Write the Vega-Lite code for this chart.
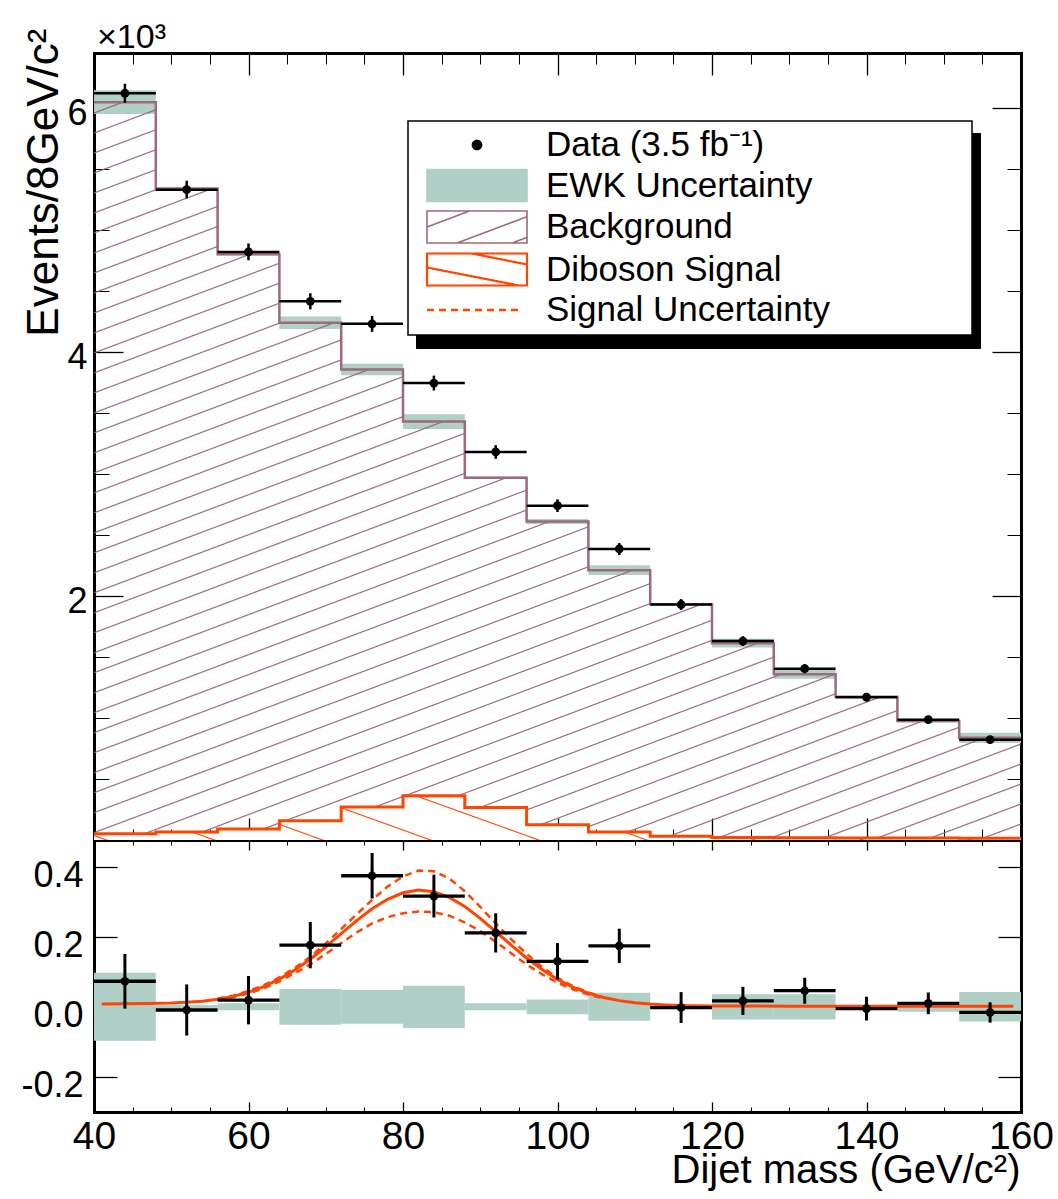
{
  "$schema": "https://vega.github.io/schema/vega-lite/v6.json",
  "width": 927,
  "height": 1059,
  "autosize": {"type": "none"},
  "padding": {"left": 94, "top": 53, "right": 37, "bottom": 87},
  "background": "white",
  "datasets": {
    "bins": [
      {"lo": 40, "hi": 48, "m": 44, "data": 6.12, "err": 0.078, "blo": 5.95, "bhi": 6.144, "diff": 0.073, "elo": -0.097, "ehi": 0.097},
      {"lo": 48, "hi": 56, "m": 52, "data": 5.33, "err": 0.073, "blo": 5.334, "bhi": 5.344, "diff": -0.009, "elo": -0.005, "ehi": 0.005},
      {"lo": 56, "hi": 64, "m": 60, "data": 4.82, "err": 0.069, "blo": 4.791, "bhi": 4.811, "diff": 0.019, "elo": -0.01, "ehi": 0.01},
      {"lo": 64, "hi": 72, "m": 68, "data": 4.415, "err": 0.066, "blo": 4.188, "bhi": 4.29, "diff": 0.176, "elo": -0.051, "ehi": 0.051},
      {"lo": 72, "hi": 80, "m": 76, "data": 4.23, "err": 0.065, "blo": 3.808, "bhi": 3.904, "diff": 0.374, "elo": -0.048, "ehi": 0.048},
      {"lo": 80, "hi": 88, "m": 84, "data": 3.745, "err": 0.061, "blo": 3.369, "bhi": 3.489, "diff": 0.316, "elo": -0.06, "ehi": 0.06},
      {"lo": 88, "hi": 96, "m": 92, "data": 3.18, "err": 0.056, "blo": 2.959, "bhi": 2.979, "diff": 0.211, "elo": -0.01, "ehi": 0.01},
      {"lo": 96, "hi": 104, "m": 100, "data": 2.74, "err": 0.052, "blo": 2.589, "bhi": 2.631, "diff": 0.13, "elo": -0.021, "ehi": 0.021},
      {"lo": 104, "hi": 112, "m": 108, "data": 2.385, "err": 0.049, "blo": 2.171, "bhi": 2.251, "diff": 0.174, "elo": -0.04, "ehi": 0.04},
      {"lo": 112, "hi": 120, "m": 116, "data": 1.93, "err": 0.044, "blo": 1.928, "bhi": 1.936, "diff": -0.002, "elo": -0.004, "ehi": 0.004},
      {"lo": 120, "hi": 128, "m": 124, "data": 1.63, "err": 0.04, "blo": 1.577, "bhi": 1.649, "diff": 0.017, "elo": -0.036, "ehi": 0.036},
      {"lo": 128, "hi": 136, "m": 132, "data": 1.404, "err": 0.037, "blo": 1.322, "bhi": 1.394, "diff": 0.046, "elo": -0.036, "ehi": 0.036},
      {"lo": 136, "hi": 144, "m": 140, "data": 1.17, "err": 0.034, "blo": 1.171, "bhi": 1.179, "diff": -0.005, "elo": -0.004, "ehi": 0.004},
      {"lo": 144, "hi": 152, "m": 148, "data": 0.986, "err": 0.031, "blo": 0.962, "bhi": 0.99, "diff": 0.01, "elo": -0.014, "ehi": 0.014},
      {"lo": 152, "hi": 160, "m": 156, "data": 0.822, "err": 0.029, "blo": 0.796, "bhi": 0.88, "diff": -0.016, "elo": -0.042, "ehi": 0.042}
    ],
    "edges": [
      {"x": 40, "bkg": 6.047, "sig": 0.052}, {"x": 48, "bkg": 5.339, "sig": 0.065},
      {"x": 56, "bkg": 4.801, "sig": 0.09}, {"x": 64, "bkg": 4.239, "sig": 0.158},
      {"x": 72, "bkg": 3.856, "sig": 0.27}, {"x": 80, "bkg": 3.429, "sig": 0.363},
      {"x": 88, "bkg": 2.969, "sig": 0.267}, {"x": 96, "bkg": 2.61, "sig": 0.125},
      {"x": 104, "bkg": 2.211, "sig": 0.065}, {"x": 112, "bkg": 1.932, "sig": 0.03},
      {"x": 120, "bkg": 1.613, "sig": 0.021}, {"x": 128, "bkg": 1.358, "sig": 0.019},
      {"x": 136, "bkg": 1.175, "sig": 0.017}, {"x": 144, "bkg": 0.976, "sig": 0.016},
      {"x": 152, "bkg": 0.838, "sig": 0.015}, {"x": 160, "bkg": 0.838, "sig": 0.015}
    ],
    "fit": [
      {"x": 41, "s": 0.008}, {"x": 44, "s": 0.0085}, {"x": 47, "s": 0.0092}, {"x": 50, "s": 0.0108},
      {"x": 52, "s": 0.013}, {"x": 54, "s": 0.0163}, {"x": 56, "s": 0.0218}, {"x": 58, "s": 0.0298},
      {"x": 60, "s": 0.0416}, {"x": 62, "s": 0.0577}, {"x": 64, "s": 0.079}, {"x": 66, "s": 0.1052},
      {"x": 68, "s": 0.1358}, {"x": 70, "s": 0.1713}, {"x": 72, "s": 0.2088}, {"x": 74, "s": 0.2459},
      {"x": 76, "s": 0.2796}, {"x": 78, "s": 0.3069}, {"x": 80, "s": 0.3253}, {"x": 82, "s": 0.333},
      {"x": 84, "s": 0.3285}, {"x": 86, "s": 0.3124}, {"x": 88, "s": 0.2861}, {"x": 90, "s": 0.2526},
      {"x": 92, "s": 0.2148}, {"x": 94, "s": 0.1761}, {"x": 96, "s": 0.1393}, {"x": 98, "s": 0.1063},
      {"x": 100, "s": 0.0784}, {"x": 102, "s": 0.056}, {"x": 104, "s": 0.0389}, {"x": 106, "s": 0.0264},
      {"x": 108, "s": 0.0177}, {"x": 110, "s": 0.0119}, {"x": 112, "s": 0.0082}, {"x": 114, "s": 0.0055},
      {"x": 116, "s": 0.0036}, {"x": 118, "s": 0.0028}, {"x": 120, "s": 0.0024}, {"x": 125, "s": 0.0021},
      {"x": 130, "s": 0.002}, {"x": 140, "s": 0.002}, {"x": 150, "s": 0.002}, {"x": 159, "s": 0.002}
    ],
    "fitband": [
      {"x": 56, "up": 0.024, "dn": 0.02}, {"x": 58, "up": 0.032, "dn": 0.027}, {"x": 60, "up": 0.045, "dn": 0.038},
      {"x": 62, "up": 0.062, "dn": 0.053}, {"x": 64, "up": 0.084, "dn": 0.073}, {"x": 66, "up": 0.111, "dn": 0.096},
      {"x": 68, "up": 0.143, "dn": 0.121}, {"x": 70, "up": 0.181, "dn": 0.151}, {"x": 72, "up": 0.222, "dn": 0.182},
      {"x": 74, "up": 0.264, "dn": 0.212}, {"x": 76, "up": 0.305, "dn": 0.238}, {"x": 78, "up": 0.343, "dn": 0.256},
      {"x": 80, "up": 0.372, "dn": 0.267}, {"x": 82, "up": 0.389, "dn": 0.272}, {"x": 84, "up": 0.387, "dn": 0.27},
      {"x": 86, "up": 0.366, "dn": 0.26}, {"x": 88, "up": 0.33, "dn": 0.241}, {"x": 90, "up": 0.285, "dn": 0.216},
      {"x": 92, "up": 0.238, "dn": 0.186}, {"x": 94, "up": 0.193, "dn": 0.153}, {"x": 96, "up": 0.151, "dn": 0.121},
      {"x": 98, "up": 0.114, "dn": 0.093}, {"x": 100, "up": 0.083, "dn": 0.069}, {"x": 102, "up": 0.059, "dn": 0.05},
      {"x": 104, "up": 0.041, "dn": 0.035}, {"x": 106, "up": 0.027, "dn": 0.024}
    ]
  },
  "layer": [
    {
      "data": {"name": "bins"},
      "mark": {"type": "rect"},
      "encoding": {
        "x": {"field": "lo", "type": "quantitative", "scale": {"domain": [40, 160], "nice": false, "zero": false},
          "axis": {"orient": "bottom", "offset": -272, "values": [40, 60, 80, 100, 120, 140, 160], "tickSize": -22, "tickWidth": 1.3, "labels": false, "domain": true, "domainWidth": 3, "domainColor": "black", "domainCap": "square", "title": null}},
        "x2": {"field": "hi"},
        "y": {"field": "blo", "type": "quantitative", "scale": {"domain": [0, 6.45], "range": [787, 0], "nice": false, "zero": false},
          "axis": {"orient": "left", "values": [2, 4, 6], "tickSize": -29, "tickWidth": 1.3, "labelFontSize": 36, "labelPadding": 36, "labelOffset": 6, "domain": true, "domainWidth": 3, "domainColor": "black", "domainCap": "square",
            "title": "Events/8GeV/c²", "titleFontSize": 44, "titleAnchor": "end", "titleAlign": "right", "titleBaseline": "alphabetic", "titleAngle": 270, "titleX": -37, "titleY": -25}},
        "y2": {"field": "bhi"},
        "color": {
          "datum": "EWK Uncertainty",
          "scale": {"domain": ["Data (3.5 fb⁻¹)", "EWK Uncertainty", "Background", "Diboson Signal", "Signal Uncertainty"], "range": ["black", "#b0cfc6", "#9c6c76", "#ff4500", "#ff4500"]},
          "legend": {
            "orient": "none", "legendX": 314, "legendY": 68, "title": null, "zindex": 2,
            "padding": 6.5, "rowPadding": 2.5, "symbolSize": 1225, "symbolOffset": 45, "labelOffset": 51.5, "symbolStrokeWidth": 1.5,
            "labelFont": "Liberation Sans", "labelFontSize": 35, "labelColor": "black", "labelLimit": 1000,
            "strokeColor": "black", "fillColor": "white",
            "encode": {
              "legend": {"update": {"strokeWidth": {"value": 1.5}}},
              "symbols": {"update": {
                "shape": {"signal": "datum.index === 0 ? 'M0.26,0A0.26,0.26,0,1,1,-0.26,0A0.26,0.26,0,1,1,0.26,0Z M27.7,0' : datum.index === 1 ? 'M-2.857,-0.914H2.857V0.914H-2.857Z' : datum.index === 2 ? 'M-2.857,-0.914H2.857V0.914H-2.857Z M-2.857,0L-0.43,-0.914 M-1.143,0.914L2.857,-0.589 M2,0.914L2.857,0.594' : datum.index === 3 ? 'M-2.857,-0.914H2.857V0.914H-2.857Z M-2.857,-0.114L2.4,0.914 M-0.286,-0.914L2.857,-0.286' : 'M-2.857,0H2.6'"},
                "fillOpacity": {"signal": "datum.index <= 1 ? 1 : 0"},
                "stroke": {"signal": "datum.index === 2 ? '#9c6c76' : datum.index >= 3 ? '#ff4500' : 'transparent'"},
                "strokeWidth": {"signal": "datum.index === 4 ? 2.5 : datum.index === 3 ? 2.2 : 1.6"},
                "strokeDash": {"signal": "datum.index === 4 ? [7, 5] : [1, 0]"},
                "opacity": {"value": 1}
              }}
            }
          }
        }
      }
    },
    {
      "data": {"name": "edges"},
      "mark": {"type": "area", "interpolate": "step-after",
        "fill": {"gradient": "linear", "x1": 0, "y1": 0, "x2": 0.5687, "y2": 1.2038, "stops": [
          {"offset": 0, "color": "rgba(147,98,109,0)"},
          {"offset": 0.0089, "color": "rgba(147,98,109,0)"}, {"offset": 0.0100, "color": "#93626d"}, {"offset": 0.0111, "color": "rgba(147,98,109,0)"},
          {"offset": 0.0273, "color": "rgba(147,98,109,0)"}, {"offset": 0.0284, "color": "#93626d"}, {"offset": 0.0295, "color": "rgba(147,98,109,0)"},
          {"offset": 0.0457, "color": "rgba(147,98,109,0)"}, {"offset": 0.0468, "color": "#93626d"}, {"offset": 0.0479, "color": "rgba(147,98,109,0)"},
          {"offset": 0.0641, "color": "rgba(147,98,109,0)"}, {"offset": 0.0652, "color": "#93626d"}, {"offset": 0.0663, "color": "rgba(147,98,109,0)"},
          {"offset": 0.0825, "color": "rgba(147,98,109,0)"}, {"offset": 0.0836, "color": "#93626d"}, {"offset": 0.0847, "color": "rgba(147,98,109,0)"},
          {"offset": 0.1009, "color": "rgba(147,98,109,0)"}, {"offset": 0.1020, "color": "#93626d"}, {"offset": 0.1031, "color": "rgba(147,98,109,0)"},
          {"offset": 0.1193, "color": "rgba(147,98,109,0)"}, {"offset": 0.1204, "color": "#93626d"}, {"offset": 0.1215, "color": "rgba(147,98,109,0)"},
          {"offset": 0.1377, "color": "rgba(147,98,109,0)"}, {"offset": 0.1388, "color": "#93626d"}, {"offset": 0.1399, "color": "rgba(147,98,109,0)"},
          {"offset": 0.1561, "color": "rgba(147,98,109,0)"}, {"offset": 0.1572, "color": "#93626d"}, {"offset": 0.1583, "color": "rgba(147,98,109,0)"},
          {"offset": 0.1745, "color": "rgba(147,98,109,0)"}, {"offset": 0.1756, "color": "#93626d"}, {"offset": 0.1767, "color": "rgba(147,98,109,0)"},
          {"offset": 0.1929, "color": "rgba(147,98,109,0)"}, {"offset": 0.1940, "color": "#93626d"}, {"offset": 0.1951, "color": "rgba(147,98,109,0)"},
          {"offset": 0.2113, "color": "rgba(147,98,109,0)"}, {"offset": 0.2124, "color": "#93626d"}, {"offset": 0.2135, "color": "rgba(147,98,109,0)"},
          {"offset": 0.2297, "color": "rgba(147,98,109,0)"}, {"offset": 0.2308, "color": "#93626d"}, {"offset": 0.2319, "color": "rgba(147,98,109,0)"},
          {"offset": 0.2481, "color": "rgba(147,98,109,0)"}, {"offset": 0.2492, "color": "#93626d"}, {"offset": 0.2503, "color": "rgba(147,98,109,0)"},
          {"offset": 0.2665, "color": "rgba(147,98,109,0)"}, {"offset": 0.2676, "color": "#93626d"}, {"offset": 0.2687, "color": "rgba(147,98,109,0)"},
          {"offset": 0.2849, "color": "rgba(147,98,109,0)"}, {"offset": 0.2860, "color": "#93626d"}, {"offset": 0.2871, "color": "rgba(147,98,109,0)"},
          {"offset": 0.3033, "color": "rgba(147,98,109,0)"}, {"offset": 0.3044, "color": "#93626d"}, {"offset": 0.3055, "color": "rgba(147,98,109,0)"},
          {"offset": 0.3217, "color": "rgba(147,98,109,0)"}, {"offset": 0.3228, "color": "#93626d"}, {"offset": 0.3239, "color": "rgba(147,98,109,0)"},
          {"offset": 0.3401, "color": "rgba(147,98,109,0)"}, {"offset": 0.3412, "color": "#93626d"}, {"offset": 0.3423, "color": "rgba(147,98,109,0)"},
          {"offset": 0.3585, "color": "rgba(147,98,109,0)"}, {"offset": 0.3596, "color": "#93626d"}, {"offset": 0.3607, "color": "rgba(147,98,109,0)"},
          {"offset": 0.3769, "color": "rgba(147,98,109,0)"}, {"offset": 0.3780, "color": "#93626d"}, {"offset": 0.3791, "color": "rgba(147,98,109,0)"},
          {"offset": 0.3953, "color": "rgba(147,98,109,0)"}, {"offset": 0.3964, "color": "#93626d"}, {"offset": 0.3975, "color": "rgba(147,98,109,0)"},
          {"offset": 0.4137, "color": "rgba(147,98,109,0)"}, {"offset": 0.4148, "color": "#93626d"}, {"offset": 0.4159, "color": "rgba(147,98,109,0)"},
          {"offset": 0.4321, "color": "rgba(147,98,109,0)"}, {"offset": 0.4332, "color": "#93626d"}, {"offset": 0.4343, "color": "rgba(147,98,109,0)"},
          {"offset": 0.4505, "color": "rgba(147,98,109,0)"}, {"offset": 0.4516, "color": "#93626d"}, {"offset": 0.4527, "color": "rgba(147,98,109,0)"},
          {"offset": 0.4689, "color": "rgba(147,98,109,0)"}, {"offset": 0.4700, "color": "#93626d"}, {"offset": 0.4711, "color": "rgba(147,98,109,0)"},
          {"offset": 0.4873, "color": "rgba(147,98,109,0)"}, {"offset": 0.4884, "color": "#93626d"}, {"offset": 0.4895, "color": "rgba(147,98,109,0)"},
          {"offset": 0.5057, "color": "rgba(147,98,109,0)"}, {"offset": 0.5068, "color": "#93626d"}, {"offset": 0.5079, "color": "rgba(147,98,109,0)"},
          {"offset": 0.5241, "color": "rgba(147,98,109,0)"}, {"offset": 0.5252, "color": "#93626d"}, {"offset": 0.5263, "color": "rgba(147,98,109,0)"},
          {"offset": 0.5425, "color": "rgba(147,98,109,0)"}, {"offset": 0.5436, "color": "#93626d"}, {"offset": 0.5447, "color": "rgba(147,98,109,0)"},
          {"offset": 0.5609, "color": "rgba(147,98,109,0)"}, {"offset": 0.5620, "color": "#93626d"}, {"offset": 0.5631, "color": "rgba(147,98,109,0)"},
          {"offset": 0.5793, "color": "rgba(147,98,109,0)"}, {"offset": 0.5804, "color": "#93626d"}, {"offset": 0.5815, "color": "rgba(147,98,109,0)"},
          {"offset": 0.5977, "color": "rgba(147,98,109,0)"}, {"offset": 0.5988, "color": "#93626d"}, {"offset": 0.5999, "color": "rgba(147,98,109,0)"},
          {"offset": 0.6161, "color": "rgba(147,98,109,0)"}, {"offset": 0.6172, "color": "#93626d"}, {"offset": 0.6183, "color": "rgba(147,98,109,0)"},
          {"offset": 0.6345, "color": "rgba(147,98,109,0)"}, {"offset": 0.6356, "color": "#93626d"}, {"offset": 0.6367, "color": "rgba(147,98,109,0)"},
          {"offset": 0.6529, "color": "rgba(147,98,109,0)"}, {"offset": 0.6540, "color": "#93626d"}, {"offset": 0.6551, "color": "rgba(147,98,109,0)"},
          {"offset": 0.6713, "color": "rgba(147,98,109,0)"}, {"offset": 0.6724, "color": "#93626d"}, {"offset": 0.6735, "color": "rgba(147,98,109,0)"},
          {"offset": 0.6897, "color": "rgba(147,98,109,0)"}, {"offset": 0.6908, "color": "#93626d"}, {"offset": 0.6919, "color": "rgba(147,98,109,0)"},
          {"offset": 0.7081, "color": "rgba(147,98,109,0)"}, {"offset": 0.7092, "color": "#93626d"}, {"offset": 0.7103, "color": "rgba(147,98,109,0)"},
          {"offset": 0.7265, "color": "rgba(147,98,109,0)"}, {"offset": 0.7276, "color": "#93626d"}, {"offset": 0.7287, "color": "rgba(147,98,109,0)"},
          {"offset": 0.7449, "color": "rgba(147,98,109,0)"}, {"offset": 0.7460, "color": "#93626d"}, {"offset": 0.7471, "color": "rgba(147,98,109,0)"},
          {"offset": 0.7633, "color": "rgba(147,98,109,0)"}, {"offset": 0.7644, "color": "#93626d"}, {"offset": 0.7655, "color": "rgba(147,98,109,0)"},
          {"offset": 0.7817, "color": "rgba(147,98,109,0)"}, {"offset": 0.7828, "color": "#93626d"}, {"offset": 0.7839, "color": "rgba(147,98,109,0)"},
          {"offset": 0.8001, "color": "rgba(147,98,109,0)"}, {"offset": 0.8012, "color": "#93626d"}, {"offset": 0.8023, "color": "rgba(147,98,109,0)"},
          {"offset": 0.8185, "color": "rgba(147,98,109,0)"}, {"offset": 0.8196, "color": "#93626d"}, {"offset": 0.8207, "color": "rgba(147,98,109,0)"},
          {"offset": 0.8369, "color": "rgba(147,98,109,0)"}, {"offset": 0.8380, "color": "#93626d"}, {"offset": 0.8391, "color": "rgba(147,98,109,0)"},
          {"offset": 0.8553, "color": "rgba(147,98,109,0)"}, {"offset": 0.8564, "color": "#93626d"}, {"offset": 0.8575, "color": "rgba(147,98,109,0)"},
          {"offset": 0.8737, "color": "rgba(147,98,109,0)"}, {"offset": 0.8748, "color": "#93626d"}, {"offset": 0.8759, "color": "rgba(147,98,109,0)"},
          {"offset": 0.8921, "color": "rgba(147,98,109,0)"}, {"offset": 0.8932, "color": "#93626d"}, {"offset": 0.8943, "color": "rgba(147,98,109,0)"},
          {"offset": 0.9105, "color": "rgba(147,98,109,0)"}, {"offset": 0.9116, "color": "#93626d"}, {"offset": 0.9127, "color": "rgba(147,98,109,0)"},
          {"offset": 0.9289, "color": "rgba(147,98,109,0)"}, {"offset": 0.9300, "color": "#93626d"}, {"offset": 0.9311, "color": "rgba(147,98,109,0)"},
          {"offset": 0.9473, "color": "rgba(147,98,109,0)"}, {"offset": 0.9484, "color": "#93626d"}, {"offset": 0.9495, "color": "rgba(147,98,109,0)"},
          {"offset": 0.9657, "color": "rgba(147,98,109,0)"}, {"offset": 0.9668, "color": "#93626d"}, {"offset": 0.9679, "color": "rgba(147,98,109,0)"},
          {"offset": 0.9841, "color": "rgba(147,98,109,0)"}, {"offset": 0.9852, "color": "#93626d"}, {"offset": 0.9863, "color": "rgba(147,98,109,0)"},
          {"offset": 1, "color": "rgba(147,98,109,0)"}
        ]}},
      "encoding": {
        "x": {"field": "x", "type": "quantitative", "scale": {"domain": [40, 160], "nice": false, "zero": false},
          "axis": {"orient": "bottom", "offset": -272, "values": [45, 50, 55, 65, 70, 75, 85, 90, 95, 105, 110, 115, 125, 130, 135, 145, 150, 155], "tickSize": -11, "tickWidth": 1, "labels": false, "title": null}},
        "y": {"field": "bkg", "type": "quantitative", "scale": {"domain": [0, 6.45], "range": [787, 0], "nice": false, "zero": false},
          "axis": {"orient": "left", "values": [0.5, 1, 1.5, 2.5, 3, 3.5, 4.5, 5, 5.5], "tickSize": -15, "tickWidth": 1, "labels": false, "title": null}},
        "y2": {"datum": 0}
      }
    },
    {
      "data": {"name": "edges"},
      "mark": {"type": "line", "interpolate": "step-after", "strokeWidth": 2.5},
      "encoding": {
        "x": {"field": "x", "type": "quantitative", "scale": {"domain": [40, 160], "nice": false, "zero": false},
          "axis": {"orient": "top", "values": [40, 60, 80, 100, 120, 140, 160], "tickSize": -22, "tickWidth": 1.3, "labels": false, "domain": true, "domainWidth": 3, "domainColor": "black", "domainCap": "square", "title": null}},
        "y": {"field": "bkg", "type": "quantitative", "scale": {"domain": [0, 6.45], "range": [787, 0], "nice": false, "zero": false},
          "axis": {"orient": "right", "values": [2, 4, 6], "tickSize": -29, "tickWidth": 1.3, "labels": false, "domain": true, "domainWidth": 3, "domainColor": "black", "domainCap": "square", "title": null}},
        "color": {"datum": "Background"}
      }
    },
    {
      "data": {"name": "edges"},
      "mark": {"type": "area", "interpolate": "step-after",
        "fill": {"gradient": "linear", "x1": 1, "y1": 0, "x2": -0.1131, "y2": 0.1477, "stops": [
          {"offset": 0, "color": "white"},
          {"offset": 0.0589, "color": "white"}, {"offset": 0.0620, "color": "#ff4500"}, {"offset": 0.0651, "color": "white"},
          {"offset": 0.1618, "color": "white"}, {"offset": 0.1649, "color": "#ff4500"}, {"offset": 0.1680, "color": "white"},
          {"offset": 0.2647, "color": "white"}, {"offset": 0.2678, "color": "#ff4500"}, {"offset": 0.2709, "color": "white"},
          {"offset": 0.3676, "color": "white"}, {"offset": 0.3707, "color": "#ff4500"}, {"offset": 0.3738, "color": "white"},
          {"offset": 0.4705, "color": "white"}, {"offset": 0.4736, "color": "#ff4500"}, {"offset": 0.4767, "color": "white"},
          {"offset": 0.5734, "color": "white"}, {"offset": 0.5765, "color": "#ff4500"}, {"offset": 0.5796, "color": "white"},
          {"offset": 0.6763, "color": "white"}, {"offset": 0.6794, "color": "#ff4500"}, {"offset": 0.6825, "color": "white"},
          {"offset": 0.7792, "color": "white"}, {"offset": 0.7823, "color": "#ff4500"}, {"offset": 0.7854, "color": "white"},
          {"offset": 0.8821, "color": "white"}, {"offset": 0.8852, "color": "#ff4500"}, {"offset": 0.8883, "color": "white"},
          {"offset": 0.9850, "color": "white"}, {"offset": 0.9881, "color": "#ff4500"}, {"offset": 0.9912, "color": "white"},
          {"offset": 1, "color": "white"}
        ]}},
      "encoding": {
        "x": {"field": "x", "type": "quantitative", "scale": {"domain": [40, 160], "nice": false, "zero": false},
          "axis": {"orient": "top", "values": [45, 50, 55, 65, 70, 75, 85, 90, 95, 105, 110, 115, 125, 130, 135, 145, 150, 155], "tickSize": -11, "tickWidth": 1, "labels": false, "title": null}},
        "y": {"field": "sig", "type": "quantitative", "scale": {"domain": [0, 6.45], "range": [787, 0], "nice": false, "zero": false},
          "axis": {"orient": "right", "values": [0.5, 1, 1.5, 2.5, 3, 3.5, 4.5, 5, 5.5], "tickSize": -14, "tickWidth": 1, "labels": false, "title": null}},
        "y2": {"datum": 0}
      }
    },
    {
      "data": {"name": "edges"},
      "mark": {"type": "line", "interpolate": "step-after", "strokeWidth": 3},
      "encoding": {
        "x": {"field": "x", "type": "quantitative", "scale": {"domain": [40, 160], "nice": false, "zero": false}, "axis": null},
        "y": {"field": "sig", "type": "quantitative", "scale": {"domain": [0, 6.45], "range": [787, 0], "nice": false, "zero": false}, "axis": null},
        "color": {"datum": "Diboson Signal"}
      }
    },
    {
      "data": {"name": "bins"},
      "mark": {"type": "rule", "color": "black", "strokeWidth": 2.5},
      "encoding": {
        "x": {"field": "lo", "type": "quantitative", "scale": {"domain": [40, 160], "nice": false, "zero": false}, "axis": null},
        "x2": {"field": "hi"},
        "y": {"field": "data", "type": "quantitative", "scale": {"domain": [0, 6.45], "range": [787, 0], "nice": false, "zero": false}, "axis": null}
      }
    },
    {
      "data": {"name": "bins"},
      "mark": {"type": "errorbar", "color": "black", "thickness": 2.5},
      "encoding": {
        "x": {"field": "m", "type": "quantitative", "scale": {"domain": [40, 160], "nice": false, "zero": false}, "axis": null},
        "y": {"field": "data", "type": "quantitative", "scale": {"domain": [0, 6.45], "range": [787, 0], "nice": false, "zero": false}, "axis": null},
        "yError": {"field": "err"}
      }
    },
    {
      "data": {"name": "bins"},
      "mark": {"type": "point", "filled": true, "size": 78, "opacity": 1},
      "encoding": {
        "x": {"field": "m", "type": "quantitative", "scale": {"domain": [40, 160], "nice": false, "zero": false}, "axis": null},
        "y": {"field": "data", "type": "quantitative", "scale": {"domain": [0, 6.45], "range": [787, 0], "nice": false, "zero": false}, "axis": null},
        "color": {"datum": "Data (3.5 fb⁻¹)"}
      }
    },
    {
      "data": {"values": [{}]},
      "mark": {"type": "text", "text": "×10³", "align": "left", "baseline": "alphabetic", "dx": 3, "dy": -5, "font": "Liberation Sans", "fontSize": 34, "color": "black"},
      "encoding": {
        "x": {"datum": 40, "type": "quantitative", "scale": {"domain": [40, 160], "nice": false, "zero": false}, "axis": null},
        "y": {"datum": 6.45, "type": "quantitative", "scale": {"domain": [0, 6.45], "range": [787, 0], "nice": false, "zero": false}, "axis": null}
      }
    },
    {
      "data": {"name": "bins"},
      "mark": {"type": "rect"},
      "encoding": {
        "x": {"field": "lo", "type": "quantitative", "scale": {"domain": [40, 160], "nice": false, "zero": false},
          "axis": {"orient": "bottom", "values": [40, 60, 80, 100, 120, 140, 160], "tickSize": -10, "tickWidth": 1.3, "labelFontSize": 39, "labelPadding": 15, "domain": true, "domainWidth": 3, "domainColor": "black", "domainCap": "square",
            "title": "Dijet mass (GeV/c²)", "titleFontSize": 40, "titleAnchor": "end", "titleAlign": "right", "titleBaseline": "alphabetic", "titleX": 926, "titleY": 70}},
        "x2": {"field": "hi"},
        "y": {"field": "elo", "type": "quantitative", "scale": {"domain": [-0.3, 0.476], "range": [1059, 787], "nice": false, "zero": false},
          "axis": {"orient": "left", "values": [-0.2, 0, 0.2, 0.4], "labelExpr": "datum.value < 0 ? '-' + format(-datum.value, '.1f') : format(datum.value, '.1f')", "tickSize": -23, "tickWidth": 1.3, "labelFontSize": 36, "labelPadding": 34, "labelOffset": 9, "domain": true, "domainWidth": 3, "domainColor": "black", "domainCap": "square", "title": null}},
        "y2": {"field": "ehi"},
        "color": {"datum": "EWK Uncertainty"},
        "fill": {
          "datum": "EWK Uncertainty",
          "scale": {"domain": ["EWK Uncertainty"], "range": ["#b0cfc6"]},
          "legend": {
            "orient": "none", "legendX": 322, "legendY": 80, "title": null, "zindex": 1,
            "padding": 6.5, "symbolSize": 1225, "symbolOffset": 0, "labelExpr": "''",
            "strokeColor": "black", "fillColor": "black",
            "encode": {
              "symbols": {"update": {
                "shape": {"value": "M0,0L30.31,10.37"},
                "stroke": {"value": "black"},
                "strokeWidth": {"value": 1},
                "opacity": {"value": 1}
              }}
            }
          }
        }
      }
    },
    {
      "data": {"name": "fit"},
      "mark": {"type": "line", "strokeWidth": 3},
      "encoding": {
        "x": {"field": "x", "type": "quantitative", "scale": {"domain": [40, 160], "nice": false, "zero": false},
          "axis": {"orient": "bottom", "values": [45, 50, 55, 65, 70, 75, 85, 90, 95, 105, 110, 115, 125, 130, 135, 145, 150, 155], "tickSize": -5, "tickWidth": 1, "labels": false, "title": null}},
        "y": {"field": "s", "type": "quantitative", "scale": {"domain": [-0.3, 0.476], "range": [1059, 787], "nice": false, "zero": false},
          "axis": {"orient": "right", "values": [-0.2, 0, 0.2, 0.4], "tickSize": -23, "tickWidth": 1.3, "labels": false, "domain": true, "domainWidth": 3, "domainColor": "black", "domainCap": "square", "title": null}},
        "color": {"datum": "Diboson Signal"}
      }
    },
    {
      "data": {"name": "fitband"},
      "mark": {"type": "line", "strokeWidth": 2.5, "strokeDash": [7, 5]},
      "encoding": {
        "x": {"field": "x", "type": "quantitative", "scale": {"domain": [40, 160], "nice": false, "zero": false},
          "axis": {"orient": "bottom", "offset": -272, "values": [40, 60, 80, 100, 120, 140, 160], "tickSize": 10, "tickWidth": 1.3, "labels": false, "title": null}},
        "y": {"field": "up", "type": "quantitative", "scale": {"domain": [-0.3, 0.476], "range": [1059, 787], "nice": false, "zero": false}, "axis": null},
        "color": {"datum": "Signal Uncertainty"}
      }
    },
    {
      "data": {"name": "fitband"},
      "mark": {"type": "line", "strokeWidth": 2.5, "strokeDash": [7, 5]},
      "encoding": {
        "x": {"field": "x", "type": "quantitative", "scale": {"domain": [40, 160], "nice": false, "zero": false},
          "axis": {"orient": "bottom", "offset": -272, "values": [45, 50, 55, 65, 70, 75, 85, 90, 95, 105, 110, 115, 125, 130, 135, 145, 150, 155], "tickSize": 5, "tickWidth": 1, "labels": false, "title": null}},
        "y": {"field": "dn", "type": "quantitative", "scale": {"domain": [-0.3, 0.476], "range": [1059, 787], "nice": false, "zero": false}, "axis": null},
        "color": {"datum": "Signal Uncertainty"}
      }
    },
    {
      "data": {"name": "bins"},
      "mark": {"type": "rule", "color": "black", "strokeWidth": 3.3},
      "encoding": {
        "x": {"field": "lo", "type": "quantitative", "scale": {"domain": [40, 160], "nice": false, "zero": false}, "axis": null},
        "x2": {"field": "hi"},
        "y": {"field": "diff", "type": "quantitative", "scale": {"domain": [-0.3, 0.476], "range": [1059, 787], "nice": false, "zero": false}, "axis": null}
      }
    },
    {
      "data": {"name": "bins"},
      "mark": {"type": "errorbar", "color": "black", "thickness": 3},
      "encoding": {
        "x": {"field": "m", "type": "quantitative", "scale": {"domain": [40, 160], "nice": false, "zero": false}, "axis": null},
        "y": {"field": "diff", "type": "quantitative", "scale": {"domain": [-0.3, 0.476], "range": [1059, 787], "nice": false, "zero": false}, "axis": null},
        "yError": {"field": "err"}
      }
    },
    {
      "data": {"name": "bins"},
      "mark": {"type": "point", "filled": true, "size": 75, "opacity": 1},
      "encoding": {
        "x": {"field": "m", "type": "quantitative", "scale": {"domain": [40, 160], "nice": false, "zero": false}, "axis": null},
        "y": {"field": "diff", "type": "quantitative", "scale": {"domain": [-0.3, 0.476], "range": [1059, 787], "nice": false, "zero": false}, "axis": null},
        "color": {"datum": "Data (3.5 fb⁻¹)"}
      }
    }
  ],
  "resolve": {"scale": {"y": "independent"}, "axis": {"x": "independent", "y": "independent"}},
  "config": {
    "view": {"stroke": null},
    "axis": {"grid": false, "domain": false, "ticks": true, "tickColor": "black", "labelFont": "Liberation Sans", "labelColor": "black", "titleFont": "Liberation Sans", "titleColor": "black", "titleFontWeight": "normal", "labelFlush": false, "labelOverlap": false, "labelBound": false, "zindex": 1}
  }
}
